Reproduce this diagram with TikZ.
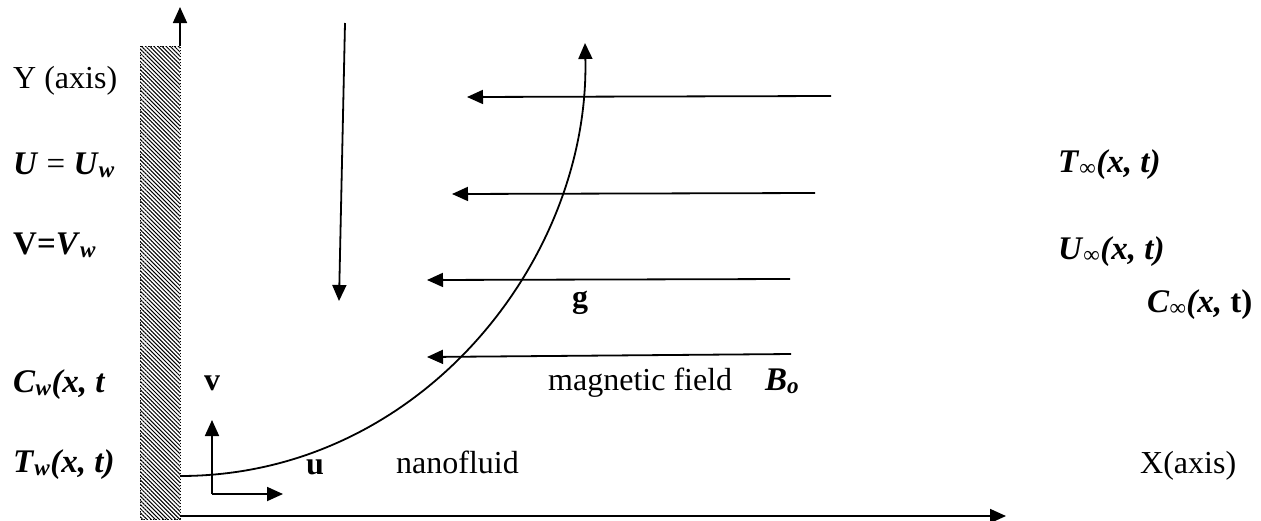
\documentclass[tikz,border=0pt]{standalone}
\usepackage{fontspec}
\setmainfont{Liberation Serif}
\usetikzlibrary{arrows.meta,patterns.meta}
\newcommand\bi[1]{\textbf{\textit{#1}}}
\newcommand\bsub[1]{\textsubscript{\bi{#1}}}
\newcommand\infsub{\textsubscript{∞}}
\begin{document}
\begin{tikzpicture}[x=1pt,y=-1pt,
  lbl/.style={anchor=base west, inner sep=0pt, font=\fontsize{32}{38}\selectfont},
  mlbl/.style={anchor=base west, inner sep=0pt, font=\fontsize{33}{38}\selectfont},
  lblc/.style={anchor=base, inner sep=0pt, font=\fontsize{32}{38}\selectfont},
  arr/.style={-{Triangle[length=16pt,width=14pt]}, line width=1.8pt},
  wall/.style={pattern={Lines[angle=-45,distance=2.9pt,line width=1pt]}},
  wallborder/.style={dotted, line width=1pt}]
\useasboundingbox (0,0) rectangle (1261,520);

% wall
\path[wall] (140,46) rectangle (180,519);
\draw[wallborder] (140,46) rectangle (180,519);

% coordinates
\coordinate (origin) at (180,516);
\coordinate (ytop) at (180,46);
\coordinate (ytip) at (180,7);
\coordinate (xtip) at (1006,516);
\coordinate (gtop) at (345,23);
\coordinate (gtip) at (339,301);
\coordinate (cstart) at (180,476);
\coordinate (ctip) at (585,43);
\coordinate (b1s) at (831,96);  \coordinate (b1e) at (467,97);
\coordinate (b2s) at (815,193); \coordinate (b2e) at (452,194);
\coordinate (b3s) at (790,279); \coordinate (b3e) at (427,280);
\coordinate (b4s) at (791,354); \coordinate (b4e) at (427,357);
\coordinate (uv) at (212,494);
\coordinate (vtip) at (212,420);
\coordinate (utip) at (283,494);

% axes
\draw[arr] (ytop) -- (ytip);
\draw[arr] (origin) -- (xtip);

% gravity arrow
\draw[arr] (gtop) -- (gtip);

% boundary layer curve
\draw[arr] (cstart) .. controls (420,476) and (590,260) .. (ctip);

% magnetic field arrows
\draw[arr] (b1s) -- (b1e);
\draw[arr] (b2s) -- (b2e);
\draw[arr] (b3s) -- (b3e);
\draw[arr] (b4s) -- (b4e);

% velocity components
\draw[arr] (uv) -- (vtip);
\draw[arr] (uv) -- (utip);

% left labels
\node[lbl] (yax) at (13,88) {Y (axis)};
\node[mlbl] (uw) at (13,174) {\bi{U} = \bi{U}\bsub{w}};
\node[mlbl] (vw) at (13,254) {\textbf{V=}\bi{V}\bsub{w}};
\node[mlbl] (cw) at (13,392) {\bi{C}\bsub{w}\bi{(x, t}};
\node[mlbl] (tw) at (13,472) {\bi{T}\bsub{w}\bi{(x, t)}};

% right labels
\node[mlbl] (tinf) at (1058,172) {\bi{T}\infsub\bi{(x, t)}};
\node[mlbl] (uinf) at (1058,259) {\bi{U}\infsub\bi{(x, t)}};
\node[mlbl] (cinf) at (1147,312) {\bi{C}\infsub\bi{(x,} \textbf{t)}};
\node[lbl] (xax) at (1140,473) {X(axis)};

% middle labels
\node[lblc] (vlab) at (212,390) {\textbf{v}};
\node[lblc] (ulab) at (315,474) {\textbf{u}};
\node[lbl] (nano) at (396,473) {nanofluid};
\node[lbl] (mag) at (548,390) {magnetic field};
\node[mlbl] (bo) at (765,390) {\bi{B}\bsub{o}};
\node[lblc] (glab) at (580,307) {\textbf{g}};
\end{tikzpicture}
\end{document}
